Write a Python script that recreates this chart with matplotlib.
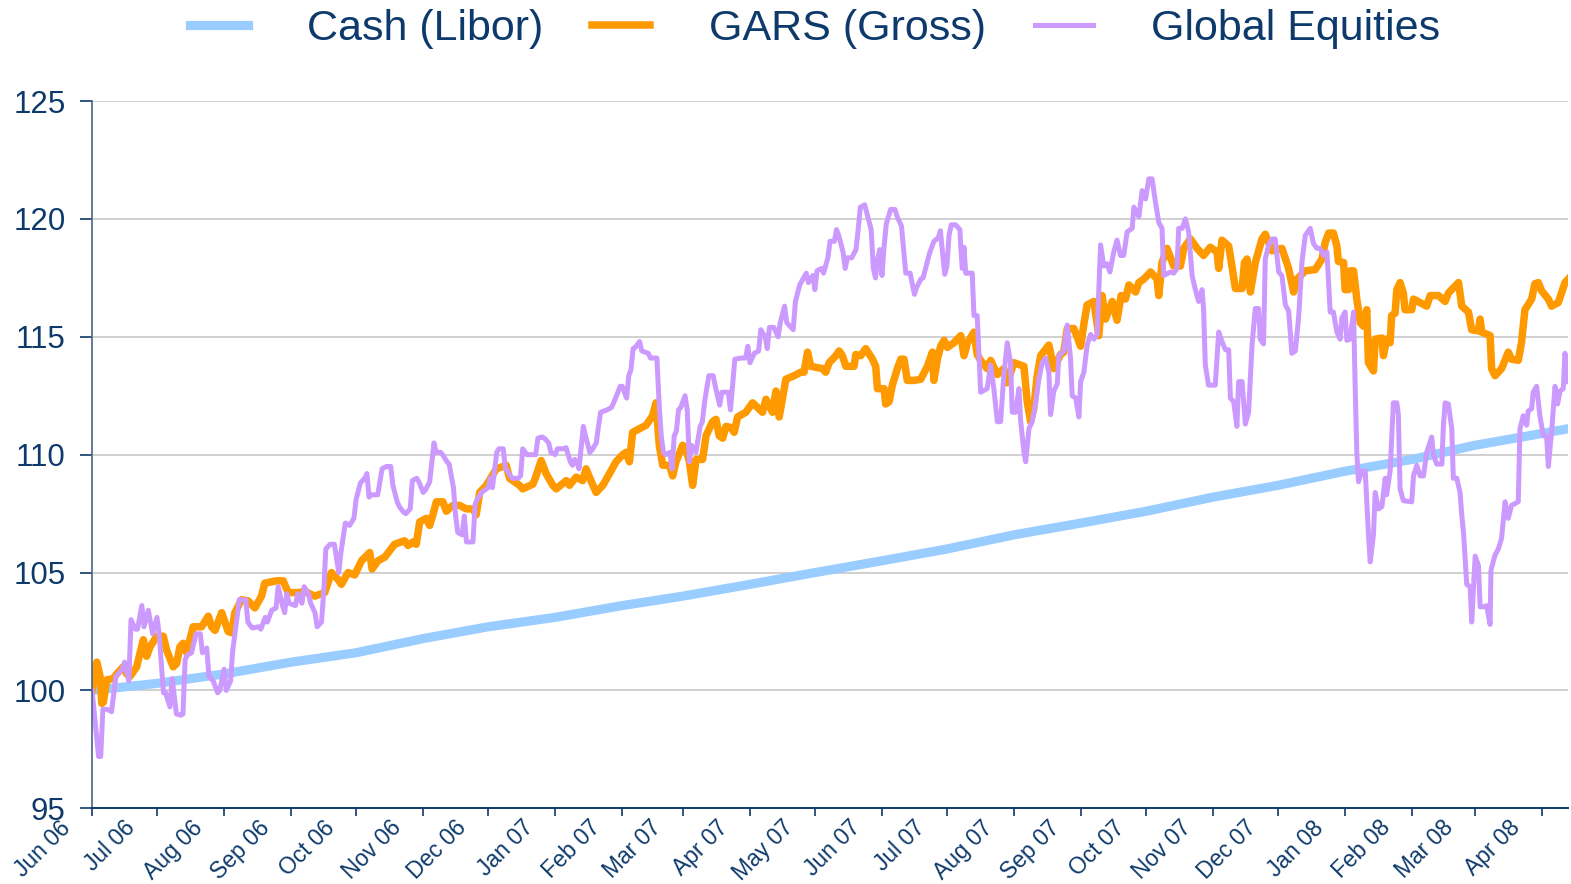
import datetime as dt
import numpy as np
import matplotlib
matplotlib.use("Agg")
import matplotlib.pyplot as plt
import matplotlib.dates as mdates
from matplotlib.transforms import ScaledTranslation

plt.rcParams['font.family'] = ['Liberation Sans', 'DejaVu Sans']

NAVY = '#0D3A6B'
start = mdates.date2num(dt.datetime(2006, 6, 1))

# days since 1 Jun 2006 -> index level (Jun 06 = 100)
cash_days = [0, 30, 61, 92, 122, 153, 183, 214, 245, 273, 304, 334, 365, 395,
             426, 457, 487, 518, 548, 579, 610, 639, 670, 682]
cash_vals = [100.0, 100.3, 100.7, 101.2, 101.6, 102.2, 102.7, 103.1, 103.6, 104.0,
             104.5, 105.0, 105.5, 106.0, 106.6, 107.1, 107.6, 108.2, 108.7, 109.3,
             109.8, 110.4, 110.9, 111.1]

gars_days = [0, 2.2, 3.7, 4.5, 5.2, 6.8, 9.8, 11.4, 14.4, 16.0, 17.5, 19.1, 20.6, 22.2,
             23.7, 25.2, 26.8, 29.9, 32.9, 34.5, 37.5, 39.1, 40.6, 42.1, 43.7, 45.2,
             46.7, 50.6, 53.7, 55.2, 56.8, 59.9, 62.9, 64.5, 66.0, 69.1, 72.1, 75.2,
             78.3, 79.8, 85.2, 88.3, 90.6, 95.2, 98.3, 102.9, 107.5, 110.6, 113.7,
             115.2, 118.3, 121.4, 124.5, 128.3, 129.4, 132.1, 135.2, 139.8, 144.4,
             146.0, 148.3, 149.8, 151.4, 154.5, 156.0, 157.5, 159.1, 162.1, 163.7,
             166.7, 169.8, 172.9, 176.0, 177.5, 179.1, 182.2, 186.8, 191.4, 192.9,
             197.5, 199.0, 203.7, 205.2, 207.5, 209.8, 212.9, 214.5, 219.1, 220.6,
             223.7, 226.7, 228.3, 229.8, 232.9, 236.0, 239.1, 242.1, 245.2, 246.8,
             248.3, 249.8, 252.9, 256.0, 259.0, 260.6, 261.4, 262.1, 263.7, 266.8,
             268.3, 269.8, 272.9, 274.4, 276.0, 277.5, 279.1, 282.1, 283.7, 286.7,
             288.3, 289.8, 291.4, 292.9, 295.2, 296.7, 298.3, 302.1, 305.2, 309.8,
             311.4, 314.4, 316.0, 317.5, 320.6, 324.4, 327.5, 329.0, 330.6, 332.1,
             337.5, 339.0, 340.6, 343.7, 345.2, 346.7, 348.3, 352.1, 352.9, 355.2,
             357.5, 360.6, 362.1, 362.9, 366.0, 366.7, 368.3, 369.8, 372.1, 373.7,
             375.2, 376.7, 379.8, 382.9, 386.0, 388.3, 389.0, 390.6, 392.1, 393.7,
             395.2, 398.3, 401.4, 402.9, 404.5, 407.5, 409.0, 410.6, 413.6, 415.2,
             418.3, 421.3, 422.9, 426.0, 430.6, 432.1, 433.7, 435.2, 436.7, 438.3,
             442.1, 444.4, 447.5, 449.0, 450.6, 453.7, 456.8, 458.3, 459.8, 462.9,
             465.2, 466.7, 468.3, 471.4, 473.6, 475.5, 477.5, 479.1, 482.2, 483.7,
             486.0, 489.1, 492.1, 492.9, 494.4, 496.7, 499.8, 502.9, 504.4, 507.5,
             510.6, 513.6, 516.7, 519.8, 520.6, 522.1, 525.2, 526.7, 528.3, 531.4,
             532.5, 533.7, 535.2, 537.5, 540.6, 542.1, 545.2, 549.8, 552.9, 555.2,
             556.8, 560.6, 565.2, 568.3, 569.8, 571.4, 573.6, 575.2, 575.9, 578.3,
             579.0, 580.6, 581.4, 582.9, 584.4, 586.0, 587.5, 589.0, 589.8, 592.1,
             592.9, 596.0, 596.7, 598.2, 599.8, 600.5, 602.1, 602.9, 604.4, 605.9,
             606.7, 609.8, 610.6, 613.7, 616.7, 618.3, 622.1, 625.2, 626.7, 631.4,
             632.9, 636.0, 637.5, 640.6, 641.4, 642.1, 646.0, 646.7, 648.3, 651.3,
             654.4, 655.9, 659.0, 660.5, 662.1, 665.2, 666.7, 668.3, 669.8, 672.9,
             674.4, 677.5, 680.6, 682.1]
gars_vals = [100.0, 101.2, 100.6, 99.45, 99.5, 100.45, 100.5, 100.7, 101.0, 100.7,
             100.6, 100.8, 101.0, 101.6, 102.15, 101.45, 101.85, 102.3, 102.3, 101.7,
             101.0, 101.15, 101.85, 102.0, 101.6, 102.15, 102.7, 102.7, 103.15, 102.7,
             102.55, 103.3, 102.5, 102.45, 103.3, 103.85, 103.8, 103.5, 104.0, 104.55,
             104.65, 104.65, 104.15, 104.15, 104.2, 104.0, 104.15, 105.0, 104.7, 104.5,
             105.0, 104.9, 105.5, 105.85, 105.15, 105.5, 105.65, 106.2, 106.35, 106.15,
             106.3, 106.2, 107.15, 107.3, 107.0, 107.45, 108.0, 108.0, 107.6, 107.85,
             107.85, 107.7, 107.7, 107.45, 108.4, 108.7, 109.4, 109.55, 109.0, 108.7,
             108.55, 108.75, 109.1, 109.75, 109.2, 108.7, 108.55, 108.9, 108.7, 109.05,
             108.9, 109.4, 109.05, 108.4, 108.7, 109.2, 109.7, 110.0, 110.1, 109.7,
             110.95, 111.1, 111.25, 111.65, 112.2, 111.25, 110.4, 109.55, 109.55, 109.1,
             109.7, 110.4, 110.25, 109.7, 108.7, 109.8, 109.8, 110.8, 111.4, 111.5,
             110.8, 110.7, 111.2, 111.15, 110.95, 111.6, 111.8, 112.2, 111.8, 112.35,
             111.8, 112.7, 111.6, 113.2, 113.35, 113.5, 113.5, 114.35, 113.75, 113.65,
             113.5, 113.9, 114.2, 114.4, 114.2, 113.75, 113.75, 114.25, 114.2, 114.5,
             114.05, 113.75, 112.8, 112.8, 112.15, 112.25, 112.95, 113.65, 114.05, 114.05,
             113.15, 113.15, 113.2, 113.75, 114.35, 113.15, 114.05, 114.6, 114.85, 114.55,
             114.75, 115.05, 114.2, 114.75, 115.2, 114.25, 114.0, 113.65, 114.0, 113.4,
             113.65, 113.05, 113.9, 113.75, 112.25, 111.4, 112.0, 113.35, 114.2, 114.65,
             113.65, 114.25, 114.35, 115.35, 115.35, 114.6, 115.55, 116.35, 116.5, 115.05,
             116.75, 115.75, 116.5, 115.7, 116.75, 116.6, 117.2, 116.9, 117.3, 117.45,
             117.75, 117.45, 116.75, 118.15, 118.75, 118.0, 118.0, 118.75, 119.15, 118.75,
             118.45, 118.8, 118.6, 117.9, 119.1, 118.85, 118.0, 117.05, 117.05, 118.15,
             118.3, 116.9, 118.15, 119.15, 119.35, 118.65, 118.75, 117.9, 116.9, 117.45,
             117.8, 117.85, 118.3, 119.0, 119.4, 119.4, 118.85, 118.2, 118.15, 117.0,
             117.0, 117.8, 117.8, 116.6, 115.6, 115.45, 116.15, 113.9, 113.55, 114.9,
             114.95, 114.2, 114.9, 114.75, 115.9, 116.0, 117.0, 117.3, 116.85, 116.15,
             116.15, 116.6, 116.45, 116.3, 116.75, 116.75, 116.5, 116.85, 117.3, 116.3,
             116.05, 115.3, 115.25, 115.75, 115.2, 115.05, 113.65, 113.35, 113.65, 114.35,
             114.05, 114.0, 114.75, 116.15, 116.6, 117.25, 117.3, 116.95, 116.6, 116.3,
             116.45, 117.3, 117.45]

eq_days = [0, 3, 4, 5, 7, 9, 11, 14, 15, 17, 18, 20, 21, 23, 24, 26, 28, 30, 31, 33,
           34, 36, 37, 39, 41, 42, 43, 44, 46, 48, 50, 51, 53, 54, 56, 58, 59, 61, 62,
           64, 65, 67, 68, 71, 72, 74, 77, 78, 80, 81, 83, 85, 86, 88, 89, 90, 91, 94,
           95, 97, 98, 100, 101, 103, 104, 106, 107, 108, 110, 112, 114, 115, 117, 119,
           121, 122, 124, 126, 127, 128, 129, 132, 134, 136, 138, 139, 141, 142, 144,
           145, 147, 148, 150, 151, 153, 154, 156, 158, 159, 161, 162, 164, 165, 167,
           168, 169, 171, 172, 173, 176, 177, 178, 180, 183, 184, 185, 187, 188, 190,
           191, 192, 194, 197, 198, 199, 201, 205, 206, 208, 209, 211, 212, 214, 215,
           218, 219, 221, 222, 223, 224, 225, 227, 228, 230, 231, 233, 234, 235, 238,
           240, 241, 243, 244, 245, 247, 248, 249, 250, 251, 253, 254, 257, 258, 261,
           262, 263, 264, 265, 267, 268, 269, 270, 271, 272, 274, 275, 276, 277, 279,
           281, 282, 283, 284, 285, 287, 288, 290, 291, 294, 295, 297, 300, 302, 303,
           304, 306, 308, 309, 311, 312, 313, 315, 317, 318, 320, 321, 324, 325, 327,
           330, 331, 333, 334, 335, 337, 338, 340, 341, 343, 344, 345, 347, 348, 349,
           351, 353, 354, 355, 357, 358, 360, 361, 362, 363, 364, 365, 366, 367, 369,
           371, 372, 374, 375, 376, 378, 380, 381, 383, 384, 386, 387, 389, 391, 392,
           393, 394, 395, 396, 397, 399, 401, 401.4, 402.1, 402.9, 403.7, 406.7, 407.5,
           409.0, 409.8, 410.6, 413.6, 415.2, 416.7, 418.3, 419.8, 421.3, 422.9, 424.4,
           425.2, 426.7, 428.3, 429.0, 430.6, 431.4, 432.9, 434.4, 436.0, 437.5, 439.0,
           440.6, 442.1, 442.9, 444.4, 446.0, 446.7, 449.0, 450.6, 452.1, 452.9, 454.5,
           456.0, 456.8, 458.3, 459.8, 461.4, 462.9, 464.4, 466.0, 467.5, 469.0, 470.3,
           472.1, 473.6, 475.2, 476.7, 478.3, 480.6, 481.4, 483.7, 485.2, 486.8, 488.3,
           489.8, 491.4, 492.9, 494.4, 495.2, 498.3, 499.8, 501.3, 502.1, 503.7, 505.2,
           506.7, 508.3, 509.8, 511.3, 512.9, 513.6, 514.4, 515.9, 519.0, 520.6, 522.1,
           523.7, 525.2, 526.0, 527.5, 529.0, 529.8, 531.4, 532.9, 534.4, 536.0, 537.5,
           539.0, 539.8, 541.3, 542.1, 543.7, 545.2, 546.7, 548.3, 549.8, 551.4, 552.9,
           554.4, 556.0, 557.5, 559.1, 560.6, 562.9, 564.4, 566.0, 567.5, 569.0, 570.6,
           572.1, 573.6, 575.2, 576.7, 577.5, 579.0, 579.8, 581.3, 582.9, 583.7, 584.4,
           585.2, 586.7, 588.3, 589.8, 590.6, 592.1, 592.9, 594.4, 596.0, 597.5, 598.2,
           599.8, 601.3, 602.9, 603.6, 604.4, 605.9, 609.8, 610.6, 612.1, 613.7, 615.2,
           616.7, 619.0, 619.8, 621.3, 623.7, 624.4, 625.2, 626.7, 628.3, 629.0, 630.6,
           632.1, 632.9, 633.7, 635.2, 636.8, 637.5, 639.1, 640.6, 641.4, 643.7, 644.4,
           646.0, 646.4, 648.3, 649.8, 651.3, 652.9, 654.4, 655.9, 659.0, 659.8, 661.3,
           662.9, 663.6, 665.2, 665.9, 667.5, 669.0, 670.6, 672.1, 672.9, 674.4, 676.0,
           677.2, 678.3, 679.8, 680.6, 682.1]
eq_vals = [100.0, 97.2, 97.2, 99.2, 99.2, 99.1, 100.6, 100.9, 101.2, 100.4, 103.0, 102.6,
           102.6, 103.6, 102.7, 103.4, 102.4, 103.1, 102.4, 99.9, 99.9, 99.3, 100.5, 99.0,
           98.95, 99.0, 101.3, 101.5, 101.6, 102.4, 102.4, 101.6, 101.8, 100.6, 100.4,
           99.9, 100.0, 100.9, 100.0, 100.4, 101.7, 103.1, 103.85, 103.85, 102.9, 102.65,
           102.7, 102.6, 103.1, 102.9, 103.4, 103.5, 104.4, 103.6, 103.3, 104.1, 103.7,
           103.6, 104.1, 103.7, 104.4, 104.1, 103.7, 103.3, 102.7, 102.9, 104.1, 106.0,
           106.2, 106.2, 105.0, 105.85, 107.1, 107.0, 107.3, 108.1, 108.8, 109.0, 109.2,
           108.2, 108.3, 108.3, 109.4, 109.5, 109.5, 108.7, 108.0, 107.8, 107.55, 107.5,
           107.7, 108.9, 109.0, 108.85, 108.4, 108.5, 108.85, 110.5, 110.1, 110.1, 110.0,
           109.7, 109.6, 108.6, 107.4, 106.7, 106.6, 107.4, 106.3, 106.3, 107.9, 108.1,
           108.4, 108.6, 109.0, 108.6, 110.1, 110.25, 110.25, 109.4, 109.3, 109.0, 109.0,
           109.1, 110.25, 110.0, 110.0, 110.7, 110.75, 110.7, 110.5, 110.1, 110.0, 110.25,
           110.25, 110.3, 109.7, 109.55, 109.8, 109.7, 109.4, 111.2, 110.8, 110.1, 110.2,
           110.5, 111.2, 111.8, 111.9, 112.0, 112.2, 112.65, 112.9, 112.9, 112.4, 113.35,
           113.6, 114.5, 114.55, 114.8, 114.4, 114.3, 114.1, 114.1, 112.2, 110.8, 110.1,
           110.0, 110.1, 109.4, 110.8, 111.0, 111.9, 112.0, 112.5, 111.9, 109.7, 110.4,
           110.1, 111.2, 111.4, 112.2, 112.8, 113.35, 113.35, 112.9, 112.1, 112.65, 112.65,
           111.9, 114.05, 114.1, 114.1, 114.6, 113.9, 114.3, 114.4, 115.3, 115.0, 114.5,
           115.4, 115.4, 115.0, 115.6, 116.3, 115.6, 115.3, 116.5, 117.2, 117.7, 117.3,
           117.6, 117.0, 117.8, 117.9, 117.7, 118.35, 119.05, 119.05, 119.55, 119.3, 118.6,
           117.9, 118.35, 118.35, 118.7, 119.55, 120.5, 120.6, 120.25, 119.55, 117.9, 117.5,
           118.3, 118.7, 117.6, 118.85, 119.8, 120.4, 120.4, 120.1, 119.7, 118.7, 117.7,
           117.7, 116.8, 117.1, 117.45, 117.5, 118.2, 118.55, 119.05, 119.2, 119.5, 118.55,
           117.65, 118.0, 119.3, 119.75, 119.75, 119.55, 118.85, 117.9, 118.8, 117.7, 117.7,
           115.9, 115.9, 114.3, 112.65, 112.8, 113.8, 112.8, 111.4, 111.4, 113.35, 114.75,
           113.9, 111.8, 111.8, 112.8, 111.5, 110.1, 109.7, 111.1, 111.4, 112.2, 113.2,
           113.9, 114.1, 113.5, 111.7, 112.7, 113.0, 114.2, 114.4, 115.5, 114.1, 112.5,
           112.4, 111.6, 113.1, 113.5, 114.65, 115.1, 114.9, 115.1, 118.9, 118.0, 118.1,
           117.75, 118.6, 119.1, 118.45, 118.45, 119.45, 119.6, 120.5, 120.1, 121.2, 120.85,
           121.7, 121.7, 120.7, 119.85, 119.6, 117.6, 117.75, 117.7, 117.9, 119.6, 119.6,
           120.0, 119.45, 117.6, 117.0, 116.5, 117.0, 116.2, 113.8, 112.95, 112.95, 115.2,
           114.8, 114.45, 114.45, 112.4, 112.25, 111.2, 113.1, 113.1, 111.3, 111.8, 114.65,
           116.2, 116.2, 114.9, 114.7, 118.3, 118.9, 119.15, 119.15, 117.75, 117.6, 116.35,
           116.1, 114.3, 114.4, 115.8, 118.2, 119.3, 119.6, 118.95, 118.75, 118.75, 118.45,
           118.6, 116.05, 116.05, 115.2, 114.9, 115.8, 116.05, 114.85, 114.9, 116.05, 112.7,
           110.1, 108.85, 109.3, 109.3, 106.6, 105.45, 106.6, 108.4, 107.7, 107.8, 109.0,
           108.3, 109.3, 112.2, 112.2, 111.7, 108.55, 108.05, 108.0, 109.1, 109.55, 109.1,
           109.1, 110.1, 110.75, 110.0, 109.6, 109.6, 111.2, 112.2, 112.15, 111.1, 109.0,
           109.0, 108.4, 107.45, 106.7, 104.5, 104.4, 102.9, 105.7, 105.3, 103.55, 103.55,
           103.6, 102.8, 105.1, 105.75, 106.0, 106.45, 108.0, 107.3, 107.85, 108.0, 111.1,
           111.65, 111.25, 111.85, 111.95, 112.65, 112.9, 111.65, 110.8, 110.8, 109.5,
           110.95, 112.9, 112.15, 112.7, 112.8, 114.3, 113.1]

fig = plt.figure(figsize=(15.71, 8.84), dpi=100)
ax = fig.add_axes([0.0586, 0.0856, 0.9395, 0.8001])

ax.plot(start + np.array(cash_days), cash_vals, color='#99CCFF', lw=6.6,
        label='Cash (Libor)')
ax.plot(start + np.array(gars_days), gars_vals, color='#FF9900', lw=5.4,
        label='GARS (Gross)')
ax.plot(start + np.array(eq_days), eq_vals, color='#CC99FF', lw=3.6,
        label='Global Equities')

ax.set_xlim(start, start + 682)
ax.set_ylim(95, 125)
ax.set_yticks(range(95, 126, 5))
ax.grid(axis='y', color='#C8C8C8', lw=1.2)
ax.set_axisbelow(True)

ax.xaxis.set_major_locator(mdates.MonthLocator())
ax.xaxis.set_major_formatter(mdates.DateFormatter('%b %y'))

for s in ['top', 'right']:
    ax.spines[s].set_visible(False)
ax.spines['left'].set_color('#4A6388')
ax.spines['bottom'].set_color(NAVY)
ax.spines['left'].set_linewidth(1.2)
ax.spines['bottom'].set_linewidth(1.4)

ax.tick_params(axis='y', length=9, width=1.2, color=NAVY, labelsize=22.5,
               labelcolor=NAVY, pad=10)
ax.tick_params(axis='x', length=6, width=1.2, color=NAVY, labelsize=16.5,
               labelcolor=NAVY, pad=5.5, labelrotation=45)
off = ScaledTranslation(-25 / 100, 0, fig.dpi_scale_trans)
for lab in ax.get_xticklabels():
    lab.set_ha('right')
    lab.set_va('center')
    lab.set_rotation_mode('anchor')
    lab.set_transform(lab.get_transform() + off)

fig.legend(loc='center', bbox_to_anchor=(0.519, 0.967), ncol=3, frameon=False,
           fontsize=31, handlelength=1.35, handletextpad=1.35, columnspacing=1.15,
           labelcolor=NAVY)

fig.savefig('out.png', dpi=100)
